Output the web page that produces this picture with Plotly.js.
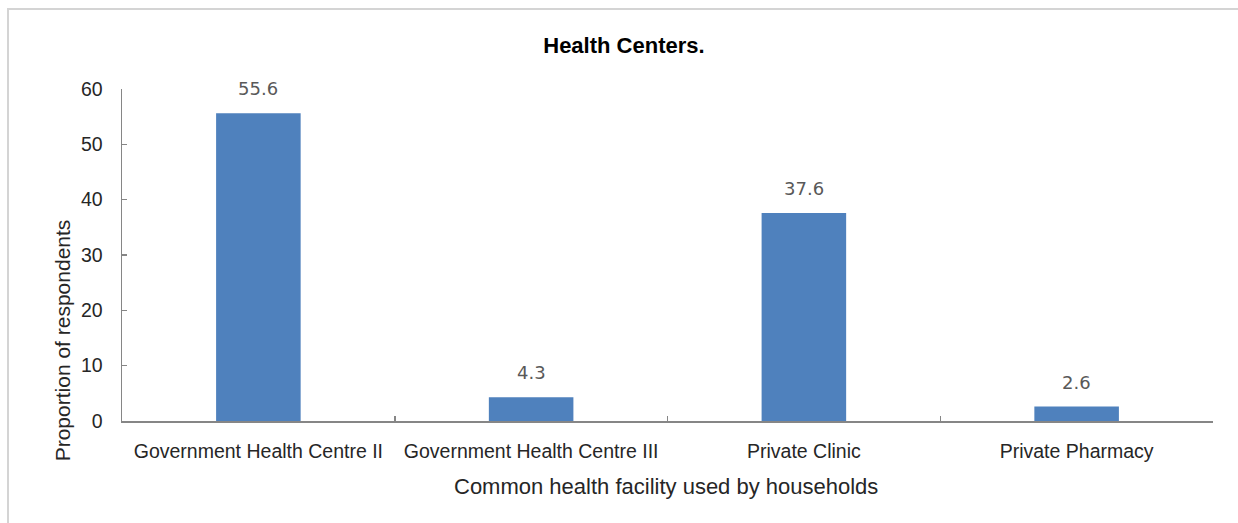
<!DOCTYPE html>
<html>
<head>
<meta charset="utf-8">
<script src="https://cdn.plot.ly/plotly-3.0.1.min.js"></script>
<style>html,body{margin:0;padding:0;background:#fff;}#chart{width:1238px;height:523px;}</style>
</head>
<body>
<div id="chart"></div>
<script>
const categories = ["Government Health Centre II", "Government Health Centre III", "Private Clinic", "Private Pharmacy"];
const values = [55.6, 4.3, 37.6, 2.6];
const valueLabels = ["55.6", "4.3", "37.6", "2.6"];
const yTicks = [0, 10, 20, 30, 40, 50, 60];
const chartTitle = "Health Centers.";
const xTitle = "Common health facility used by households";
const yTitle = "Proportion of respondents";

const fontFam = "Liberation Sans, Arial, sans-serif";
const annotations = categories.map((c, i) => ({
  x: c, y: values[i], xref: "x", yref: "y",
  text: valueLabels[i], showarrow: false,
  yanchor: "bottom", yshift: 12,
  font: {family: "DejaVu Sans, sans-serif", size: 18, color: "#595959"}
}));
annotations.push({
  x: 0.499, y: -0.196, xref: "paper", yref: "paper",
  text: xTitle, showarrow: false, xanchor: "center", yanchor: "middle",
  font: {family: fontFam, size: 22, color: "#262626"}
});
annotations.push({
  x: -0.055, y: 0.243, xref: "paper", yref: "paper",
  text: yTitle, showarrow: false, textangle: -90, xanchor: "center", yanchor: "middle",
  font: {family: fontFam, size: 21, color: "#262626"}
});

Plotly.newPlot("chart", [{
  type: "bar", x: categories, y: values,
  marker: {color: "#4F81BD", line: {width: 0}},
  hoverinfo: "x+y"
}], {
  width: 1238, height: 523,
  margin: {l: 122, r: 25, t: 89, b: 102},
  paper_bgcolor: "#fff", plot_bgcolor: "#fff",
  bargap: 0.69,
  showlegend: false,
  title: {text: "<b>" + chartTitle + "</b>", x: 0.504, xanchor: "center", y: 1 - 45/523, yanchor: "middle",
          font: {family: fontFam, size: 22, color: "#000"}},
  xaxis: {
    type: "category", tickson: "boundaries", ticks: "inside", ticklen: 5, tickwidth: 1.5,
    tickcolor: "#868686", showline: true, linecolor: "#868686", linewidth: 1.5,
    showgrid: false, zeroline: false, ticklabelstandoff: 12,
    tickfont: {family: fontFam, size: 19.5, color: "#262626"}
  },
  yaxis: {
    range: [0, 60], tickvals: yTicks, ticktext: yTicks.map(String),
    ticks: "inside", ticklen: 5, tickwidth: 1.5, tickcolor: "#868686",
    showline: true, linecolor: "#868686", linewidth: 1.5,
    showgrid: false, zeroline: false, ticklabelstandoff: 14,
    tickfont: {family: fontFam, size: 19.5, color: "#262626"}
  },
  annotations: annotations,
  shapes: [{
    type: "rect", xref: "paper", yref: "paper",
    x0: (8 - 122) / 1091, x1: (1245 - 122) / 1091,
    y0: (421 - 540) / 332, y1: (421 - 9) / 332,
    line: {color: "#d4d4d4", width: 2}, fillcolor: "rgba(0,0,0,0)", layer: "below"
  }]
}, {displayModeBar: false, staticPlot: true});
</script>
</body>
</html>
